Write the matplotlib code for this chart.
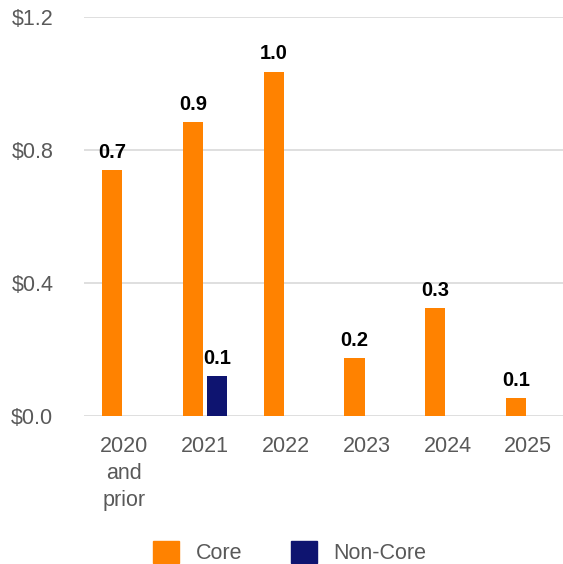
import numpy as np
import matplotlib.pyplot as plt
from matplotlib.patches import Patch

plt.rcParams['font.family'] = ['Liberation Sans', 'DejaVu Sans']

# data
years = ["2020\nand\nprior", "2021", "2022", "2023", "2024", "2025"]
core = [0.74, 0.884, 1.035, 0.174, 0.325, 0.054]
non_core = [np.nan, 0.12, np.nan, np.nan, np.nan, np.nan]
yticks = [0.0, 0.4, 0.8, 1.2]

orange = "#FF8200"
navy = "#0E1470"
grey = "#595959"

fig = plt.figure(figsize=(5.63, 5.64), dpi=100)
ax = fig.add_axes([0.149, 0.262, 0.851, 0.708])

x = np.arange(len(years))
w = 0.25
b1 = ax.bar(x - 0.15, core, w, color=orange, zorder=3)
b2 = ax.bar(x + 0.15, non_core, w, color=navy, zorder=3)

for bars in (b1, b2):
    for r in bars:
        h = r.get_height()
        if np.isnan(h):
            continue
        ax.annotate(f"{h:.1f}", (r.get_x() + r.get_width() / 2, h),
                    xytext=(0, 6), textcoords="offset points",
                    ha="center", va="bottom", fontsize=14.5,
                    fontweight="bold", color="black")

ax.set_ylim(0, 1.2)
ax.set_xlim(-0.5, 5.43)
ax.set_yticks(yticks)
ax.set_yticklabels([f"${v:.1f}" for v in yticks])
ax.set_xticks(x)
ax.set_xticklabels(years, linespacing=1.4)
ax.tick_params(axis="y", length=0, pad=22, labelsize=15.5, labelcolor=grey)
ax.tick_params(axis="x", length=0, pad=14, labelsize=15.5, labelcolor=grey)
ax.grid(axis="y", color="#d9d9d9", linewidth=1.2, zorder=0)
for s in ax.spines.values():
    s.set_visible(False)

handles = [Patch(color=orange, label="Core"), Patch(color=navy, label="Non-Core")]
leg = fig.legend(handles=handles, loc="center", bbox_to_anchor=(0.515, 0.021),
                 ncol=2, frameon=False, fontsize=15.5, handlelength=1.2,
                 handleheight=1.2, handletextpad=0.75, columnspacing=2.3)
for t in leg.get_texts():
    t.set_color(grey)

fig.savefig("out.png", dpi=100)
